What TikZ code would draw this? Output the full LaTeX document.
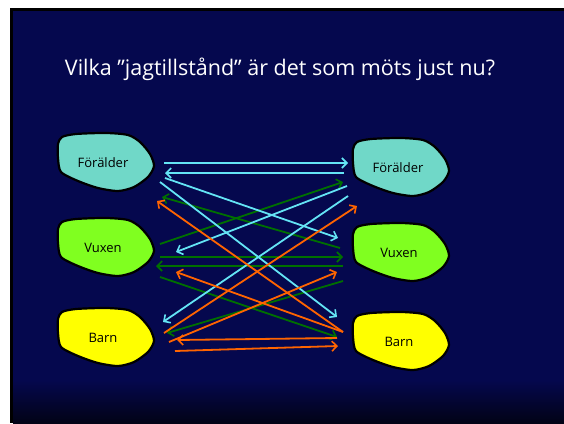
\documentclass[tikz,border=0pt]{standalone}
\usepackage{fontspec}
\setmainfont{Open Sans}
\usetikzlibrary{arrows.meta}
\definecolor{navy}{RGB}{5,8,78}
\definecolor{navydark}{RGB}{2,3,22}
\definecolor{cyanA}{RGB}{100,228,245}
\definecolor{greenA}{RGB}{0,112,0}
\definecolor{orangeA}{RGB}{255,100,0}
\definecolor{fillF}{RGB}{112,216,200}
\definecolor{fillV}{RGB}{128,255,32}
\definecolor{fillB}{RGB}{255,255,0}
\tikzset{
  blobline/.style={draw=black, line width=2.2pt, line join=round},
  lbl/.style={font=\fontsize{13}{15}\selectfont, text=black, inner sep=0pt},
  titletext/.style={font=\fontsize{21.5}{25}\selectfont, text=white, inner sep=0pt, anchor=base},
  arr/.style={line width=1.8pt, -{Straight Barb[length=5pt,width=10pt,line width=1.6pt]}},
  carr/.style={arr, cyanA},
  garr/.style={arr, greenA},
  oarr/.style={arr, orangeA}
}
\newcommand{\drawblob}[2]{%
  \begin{scope}[shift={#1}]
    \draw[blobline, fill=#2] plot[smooth cycle, tension=0.45] coordinates {
      (-44,-25) (-30,-28) (0,-29) (22,-27) (34,-20) (44,-8) (48,4)
      (42,15) (28,25) (12,29) (-8,26) (-28,19) (-45,10) (-48,-4) (-48,-18)};
  \end{scope}}
\begin{document}
\begin{tikzpicture}[x=1pt,y=-1pt]
\useasboundingbox (0,0) rectangle (564,423);
\fill[white] (0,0) rectangle (564,423);
\fill[black] (10,8) rectangle (564,423);
\fill[navy] (13,11) rectangle (564,423);
\shade[top color=navy, bottom color=navydark] (13,380) rectangle (564,423);

\node[titletext] (title) at (280,75) {Vilka "jagtillstånd" är det som möts just nu?};

% blobs
\drawblob{(106,162)}{fillF}
\drawblob{(106,247)}{fillV}
\drawblob{(106,337)}{fillB}
\drawblob{(401,167)}{fillF}
\drawblob{(401,252)}{fillV}
\drawblob{(401,341)}{fillB}

\node[lbl] (lf) at (103,163) {Förälder};
\node[lbl] (lv) at (103,248) {Vuxen};
\node[lbl] (lb) at (103,338) {Barn};
\node[lbl] (rf) at (398,168) {Förälder};
\node[lbl] (rv) at (399,253) {Vuxen};
\node[lbl] (rb) at (399,342) {Barn};

% arrow end points
\coordinate (c1s) at (164,163); \coordinate (c1e) at (348,163);
\coordinate (c2s) at (344,173); \coordinate (c2e) at (165,173);
\coordinate (c3s) at (165,178); \coordinate (c3e) at (338,238);
\coordinate (c4s) at (160,182); \coordinate (c4e) at (337,317);
\coordinate (c5s) at (347,186); \coordinate (c5e) at (176,252);
\coordinate (c6s) at (348,196); \coordinate (c6e) at (163,322);

\coordinate (g1s) at (160,244); \coordinate (g1e) at (343,182);
\coordinate (g2s) at (340,248); \coordinate (g2e) at (162,197);
\coordinate (g3s) at (160,257); \coordinate (g3e) at (343,257);
\coordinate (g4s) at (343,266); \coordinate (g4e) at (156,266);
\coordinate (g5s) at (160,277); \coordinate (g5e) at (337,337);
\coordinate (g6s) at (343,281); \coordinate (g6e) at (167,333);

\coordinate (o1s) at (343,332); \coordinate (o1e) at (157,201);
\coordinate (o2s) at (164,333); \coordinate (o2e) at (357,206);
\coordinate (o3s) at (343,332); \coordinate (o3e) at (176,272);
\coordinate (o4s) at (169,342); \coordinate (o4e) at (337,272);
\coordinate (o5s) at (337,338); \coordinate (o5e) at (177,340);
\coordinate (o6s) at (175,351); \coordinate (o6e) at (338,346);

\draw[garr] (g1s) -- (g1e);
\draw[garr] (g2s) -- (g2e);
\draw[garr] (g3s) -- (g3e);
\draw[garr] (g4s) -- (g4e);
\draw[garr] (g5s) -- (g5e);
\draw[garr] (g6s) -- (g6e);

\draw[carr] (c1s) -- (c1e);
\draw[carr] (c2s) -- (c2e);
\draw[carr] (c3s) -- (c3e);
\draw[carr] (c4s) -- (c4e);
\draw[carr] (c5s) -- (c5e);
\draw[carr] (c6s) -- (c6e);

\draw[oarr] (o1s) -- (o1e);
\draw[oarr] (o2s) -- (o2e);
\draw[oarr] (o3s) -- (o3e);
\draw[oarr] (o4s) -- (o4e);
\draw[oarr] (o5s) -- (o5e);
\draw[oarr] (o6s) -- (o6e);
\end{tikzpicture}
\end{document}
